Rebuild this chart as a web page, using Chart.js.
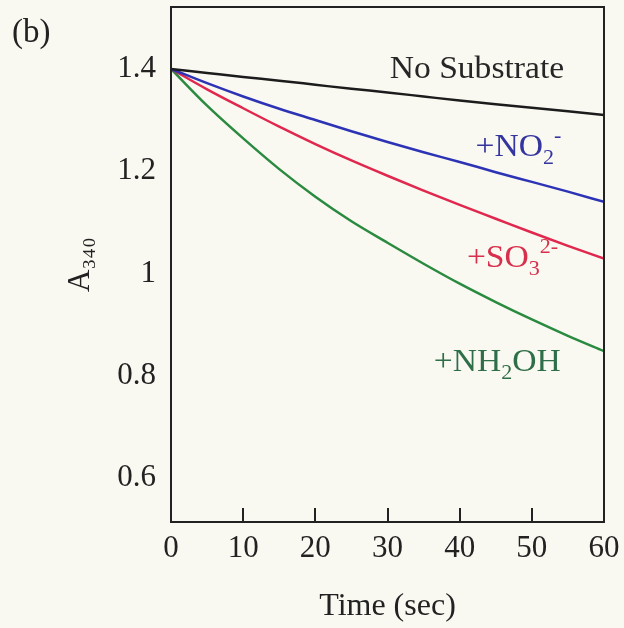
<!DOCTYPE html>
<html>
<head>
<meta charset="utf-8">
<script src="https://cdn.jsdelivr.net/npm/chart.js@4/dist/chart.umd.min.js"></script>
<style>
  html, body { margin: 0; padding: 0; background: #faf9f1; }
  canvas { display: block; }
</style>
</head>
<body>
<canvas id="myChart" width="624" height="628"></canvas>
<script>
// time in seconds, absorbance every 5 s
const time = [0, 5, 10, 15, 20, 25, 30, 35, 40, 45, 50, 55, 60];
const noSubstrate = [1.400, 1.392, 1.384, 1.377, 1.369, 1.361, 1.354, 1.346, 1.338, 1.331, 1.324, 1.317, 1.310];
const nitrite     = [1.400, 1.372, 1.346, 1.322, 1.300, 1.278, 1.257, 1.237, 1.218, 1.198, 1.179, 1.160, 1.140];
const sulfite     = [1.400, 1.360, 1.323, 1.287, 1.253, 1.221, 1.191, 1.162, 1.134, 1.107, 1.080, 1.054, 1.029];
const hydroxylamine = [1.400, 1.328, 1.264, 1.204, 1.150, 1.102, 1.060, 1.019, 0.980, 0.944, 0.910, 0.878, 0.848];

const yTicks = [0.6, 0.8, 1.0, 1.2, 1.4];
const xTicks = [0, 10, 20, 30, 40, 50, 60];

const serif = "'Liberation Serif', 'Times New Roman', serif";

function pts(arr) {
	return time.map((t, i) => ({ x: t, y: arr[i] }));
}

// text with sub/superscripts, slightly stretched like the scan
function richText(ctx, x, y, parts, color) {
	ctx.save();
	ctx.translate(x, y);
	ctx.scale(1.05, 1);
	ctx.fillStyle = color;
	ctx.textBaseline = "alphabetic";
	ctx.textAlign = "left";
	let cx = 0;
	parts.forEach(p => {
		let size = 32, dy = 0;
		if (p[1] === "sub") { size = 21; dy = 8; }
		if (p[1] === "sup") { size = 21; dy = -14; }
		ctx.font = size + "px " + serif;
		ctx.fillText(p[0], cx, dy);
		cx += ctx.measureText(p[0]).width;
	});
	ctx.restore();
}

const decorations = {
	id: "decorations",
	beforeDraw(chart) {
		const c = chart.ctx;
		c.save();
		c.fillStyle = "#faf9f1";
		c.fillRect(0, 0, chart.width, chart.height);
		c.restore();
	},
	afterDraw(chart) {
		const c = chart.ctx;
		const a = chart.chartArea;
		const xs = chart.scales.x, ys = chart.scales.y;
		c.save();
		// frame
		c.strokeStyle = "#222";
		c.lineWidth = 2;
		c.strokeRect(a.left, a.top, a.right - a.left, a.bottom - a.top);
		// inward ticks on the time axis
		xTicks.slice(1, -1).forEach(t => {
			const px = Math.round(xs.getPixelForValue(t));
			c.beginPath();
			c.moveTo(px, a.bottom);
			c.lineTo(px, a.bottom - 14);
			c.stroke();
		});
		// panel letter
		c.fillStyle = "#222";
		c.font = "33px " + serif;
		c.textBaseline = "middle";
		c.fillText("(b)", 12, 33);
		// curve labels
		richText(c, xs.getPixelForValue(30.3), ys.getPixelForValue(1.382), [["No Substrate"]], "#262626");
		richText(c, xs.getPixelForValue(42.2), ys.getPixelForValue(1.230), [["+NO"], ["2", "sub"], ["-", "sup"]], "#3535a0");
		richText(c, xs.getPixelForValue(41.0), ys.getPixelForValue(1.013), [["+SO"], ["3", "sub"], ["2-", "sup"]], "#d8304c");
		richText(c, xs.getPixelForValue(36.4), ys.getPixelForValue(0.810), [["+NH"], ["2", "sub"], ["OH"]], "#2e6e48");
		c.restore();
	}
};

var ctx = document.getElementById("myChart").getContext("2d");
var lineChart = new Chart(ctx, {
	type: "line",
	data: {
		datasets: [
			{ label: "No Substrate", data: pts(noSubstrate), borderColor: "#1c1c1c" },
			{ label: "+NO2-", data: pts(nitrite), borderColor: "#2d33b5" },
			{ label: "+SO3 2-", data: pts(sulfite), borderColor: "#e0284e" },
			{ label: "+NH2OH", data: pts(hydroxylamine), borderColor: "#2a8a40" }
		]
	},
	options: {
		responsive: false,
		animation: false,
		devicePixelRatio: 1,
		layout: { padding: { top: 7, right: 20, bottom: 0, left: 0 } },
		elements: {
			point: { radius: 0 },
			line: { borderWidth: 2.5, cubicInterpolationMode: "monotone" }
		},
		plugins: {
			legend: { display: false },
			tooltip: { enabled: false }
		},
		scales: {
			x: {
				type: "linear",
				min: 0,
				max: 60,
				afterBuildTicks: s => { s.ticks = xTicks.map(v => ({ value: v })); },
				ticks: { font: { family: serif, size: 31 }, color: "#222", padding: 0, maxRotation: 0 },
				grid: { display: false },
				border: { display: false },
				title: { display: true, text: "Time (sec)", font: { family: serif, size: 32 }, color: "#222", padding: { top: 4, bottom: 2 } },
				afterFit: s => { s.height = 106; s.paddingLeft = 0; s.paddingRight = 0; }
			},
			y: {
				type: "linear",
				min: 0.514,
				max: 1.521,
				afterBuildTicks: s => { s.ticks = yTicks.map(v => ({ value: v })); },
				ticks: { font: { family: serif, size: 31 }, color: "#222", padding: 7, callback: v => String(v) },
				grid: { display: false },
				border: { display: false },
				title: { display: true, text: "A\u2083\u2084\u2080", font: { family: serif, size: 31 }, color: "#222", padding: { top: 62, bottom: 0 } },
				afterFit: s => { s.width = 171; s.paddingTop = 0; s.paddingBottom = 0; }
			}
		}
	},
	plugins: [decorations]
});
</script>
</body>
</html>
